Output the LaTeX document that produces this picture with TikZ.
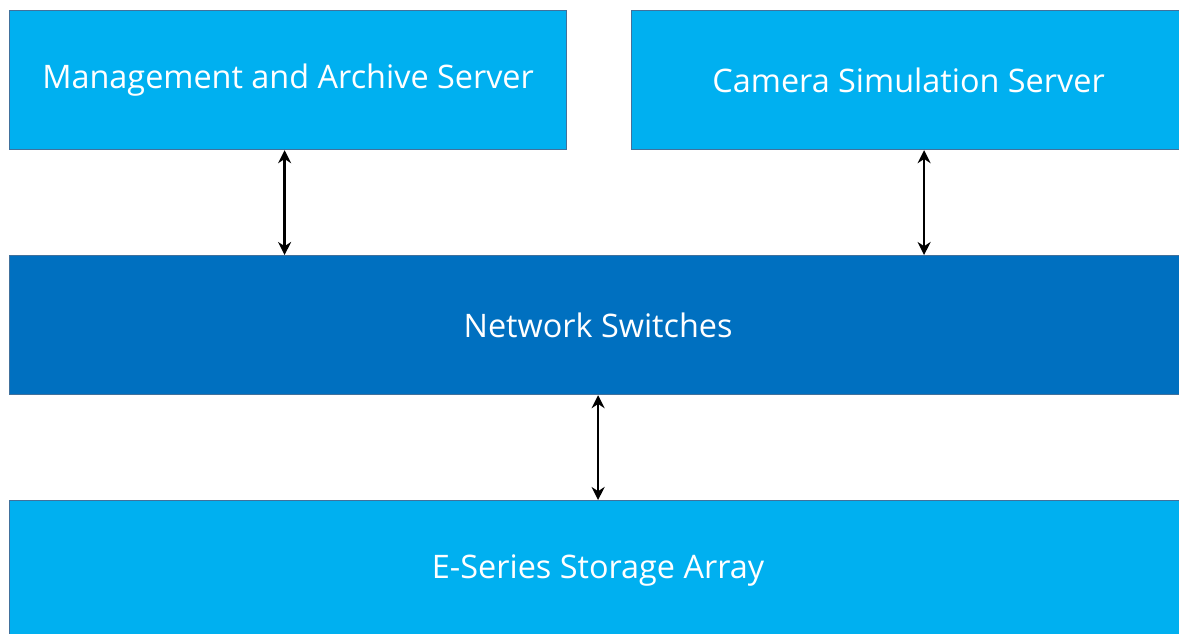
\documentclass[tikz,border=0pt]{standalone}
\usepackage{fontspec}
\setmainfont{Open Sans}
\usetikzlibrary{arrows.meta,positioning}
\definecolor{lightblue}{HTML}{00B0F0}
\definecolor{darkblue}{HTML}{0070C0}
\definecolor{edgeblue}{HTML}{41719C}
\begin{document}
\begin{tikzpicture}[x=1pt,y=-1pt,
  box/.style={draw=edgeblue,line width=1.2pt,fill=lightblue,text=white,
    font=\fontsize{32.4}{38}\selectfont,minimum height=139pt,inner sep=0pt,anchor=north west},
  link/.style={{Stealth[length=13pt,width=13pt]}-{Stealth[length=13pt,width=13pt]},line width=2.6pt}]
\useasboundingbox (0,0) rectangle (1179,634);
\clip (0,0) rectangle (1179,634);
% top row
\node[box,minimum width=557pt] (mas) at (9,10) {Management and Archive Server};
\node[box,minimum width=554pt] (css) at (631,10) {Camera Simulation Server};
% middle and bottom
\node[box,fill=darkblue,minimum width=1177pt] (net) at (9,255) {Network Switches};
\node[box,minimum width=1177pt] (eser) at (9,500) {E-Series Storage Array};
% links
\draw[link] ([xshift=-3.5pt]mas.south) -- ([xshift=-3.5pt]mas.south |- net.north);
\draw[link] ([xshift=15.5pt]css.south) -- ([xshift=15.5pt]css.south |- net.north);
\draw[link] (net.south) -- (eser.north);
\end{tikzpicture}
\end{document}
